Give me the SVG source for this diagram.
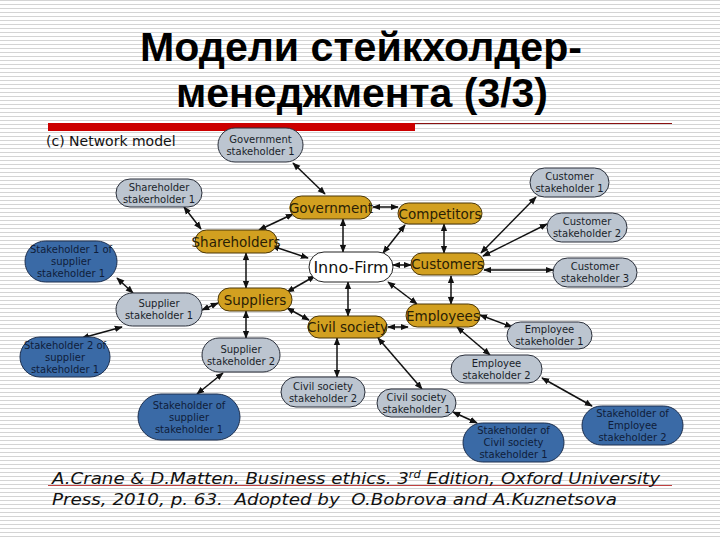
<svg xmlns="http://www.w3.org/2000/svg" width="720" height="540" viewBox="0 0 720 540">
<defs>
<pattern id="stripes" patternUnits="userSpaceOnUse" width="720" height="4">
<rect x="0" y="0" width="720" height="4" fill="#ffffff"/>
<rect x="0" y="0" width="720" height="1" fill="#d4d4d4"/>
</pattern>
<marker id="ah" viewBox="0 0 10 10" refX="9" refY="5" markerWidth="8" markerHeight="8" markerUnits="userSpaceOnUse" orient="auto-start-reverse">
<path d="M0,1 L10,5 L0,9 z" fill="#111"/>
</marker>
<style>
.t{font-family:"DejaVu Sans",Verdana,sans-serif;}
.grey rect{fill:#bcc5d0;stroke:#2a2f3a;stroke-width:1}
.blue rect{fill:#3a6aa6;stroke:#1c2f4f;stroke-width:1}
.gold rect{fill:#d2a020;stroke:#4a3608;stroke-width:1}
.white rect{fill:#ffffff;stroke:#222;stroke-width:1}
.grey text{font-family:"DejaVu Sans",Verdana,sans-serif;font-size:10px;fill:#1a1f2a;text-anchor:middle}
.blue text{font-family:"DejaVu Sans",Verdana,sans-serif;font-size:10px;fill:#0f1d3a;text-anchor:middle}
.gold text{font-family:"DejaVu Sans",Verdana,sans-serif;font-size:13.5px;fill:#2a1e05;text-anchor:middle}
.white text{font-family:"DejaVu Sans",Verdana,sans-serif;font-size:16px;fill:#111;text-anchor:middle}
#edges line{stroke:#111;stroke-width:1.5;marker-start:url(#ah);marker-end:url(#ah)}
</style>
</defs>
<rect x="0" y="0" width="720" height="540" fill="url(#stripes)"/>

<g id="title">
<text x="361" y="61" font-family="'Liberation Sans',Arial,sans-serif" font-weight="bold" font-size="41" text-anchor="middle" textLength="442" lengthAdjust="spacingAndGlyphs" fill="#000">Модели стейкхолдер-</text>
<text x="362" y="107" font-family="'Liberation Sans',Arial,sans-serif" font-weight="bold" font-size="41" text-anchor="middle" textLength="372" lengthAdjust="spacingAndGlyphs" fill="#000">менеджмента (3/3)</text>
</g>
<g id="rule">
<rect x="48" y="123" width="367" height="8" fill="#cc0000"/>
<line x1="415" y1="123.5" x2="672" y2="123.5" stroke="#8a1010" stroke-width="1"/>
</g>
<text class="t" x="46" y="146" font-size="14" fill="#111">(c) Network model</text>

<g id="edges">
<line x1="293" y1="163" x2="325" y2="194"/>
<line x1="184" y1="207" x2="201" y2="229"/>
<line x1="293" y1="214" x2="259" y2="230"/>
<line x1="272" y1="246" x2="308" y2="258"/>
<line x1="343" y1="219" x2="343" y2="252"/>
<line x1="373" y1="207" x2="398" y2="207"/>
<line x1="405" y1="225" x2="383" y2="253"/>
<line x1="444" y1="224" x2="444" y2="253"/>
<line x1="393" y1="265" x2="411" y2="265"/>
<line x1="481" y1="253" x2="536" y2="197"/>
<line x1="483" y1="256" x2="547" y2="224"/>
<line x1="484" y1="270" x2="553" y2="270"/>
<line x1="451" y1="276" x2="451" y2="304"/>
<line x1="388" y1="282" x2="417" y2="304"/>
<line x1="315" y1="276" x2="287" y2="292"/>
<line x1="348" y1="282" x2="348" y2="316"/>
<line x1="287" y1="308" x2="309" y2="320"/>
<line x1="388" y1="327" x2="408" y2="327"/>
<line x1="246" y1="253" x2="246" y2="288"/>
<line x1="117" y1="278" x2="133" y2="293"/>
<line x1="202" y1="310" x2="218" y2="303"/>
<line x1="122" y1="327" x2="82" y2="338"/>
<line x1="246" y1="311" x2="246" y2="338"/>
<line x1="223" y1="373" x2="197" y2="394"/>
<line x1="337" y1="338" x2="337" y2="377"/>
<line x1="378" y1="338" x2="422" y2="389"/>
<line x1="480" y1="315" x2="512" y2="327"/>
<line x1="457" y1="327" x2="490" y2="355"/>
<line x1="542" y1="378" x2="592" y2="406"/>
<line x1="453" y1="412" x2="477" y2="423"/>
</g>

<g id="gov-sh1" class="grey"><rect x="218" y="128" width="85" height="34" rx="17"/><text x="260.5" y="143">Government</text><text x="260.5" y="155">stakeholder 1</text></g>
<g id="share-sh1" class="grey"><rect x="116" y="179" width="86" height="28" rx="14"/><text x="159" y="191">Shareholder</text><text x="159" y="203">stakerholder 1</text></g>
<g id="sup-sh1" class="grey"><rect x="116" y="293" width="86" height="33" rx="16.5"/><text x="159" y="307">Supplier</text><text x="159" y="319">stakeholder 1</text></g>
<g id="sup-sh2" class="grey"><rect x="202" y="338" width="78" height="34" rx="17"/><text x="241" y="353">Supplier</text><text x="241" y="365">stakeholder 2</text></g>
<g id="civ-sh2" class="grey"><rect x="281" y="377" width="84" height="30" rx="15"/><text x="323" y="390">Civil society</text><text x="323" y="402">stakeholder 2</text></g>
<g id="cus-sh1" class="grey"><rect x="530" y="168" width="79" height="29" rx="14.5"/><text x="569.5" y="180">Customer</text><text x="569.5" y="192">stakeholder 1</text></g>
<g id="cus-sh2" class="grey"><rect x="547" y="213" width="80" height="29" rx="14.5"/><text x="587" y="225">Customer</text><text x="587" y="237">stakeholder 2</text></g>
<g id="cus-sh3" class="grey"><rect x="553" y="258" width="84" height="29" rx="14.5"/><text x="595" y="270">Customer</text><text x="595" y="282">stakeholder 3</text></g>
<g id="emp-sh1" class="grey"><rect x="507" y="322" width="85" height="27" rx="13.5"/><text x="549.5" y="333">Employee</text><text x="549.5" y="345">stakeholder 1</text></g>
<g id="emp-sh2" class="grey"><rect x="451" y="355" width="91" height="28" rx="14"/><text x="496.5" y="366.5">Employee</text><text x="496.5" y="378.5">stakeholder 2</text></g>
<g id="civ-sh1" class="grey"><rect x="377" y="389" width="79" height="28" rx="14"/><text x="416.5" y="400.5">Civil society</text><text x="416.5" y="412.5">stakeholder 1</text></g>

<g id="b-sup1-1" class="blue"><rect x="25" y="241" width="92" height="41" rx="20.5"/><text x="71" y="253">Stakeholder 1 of</text><text x="71" y="265">supplier</text><text x="71" y="277">stakeholder 1</text></g>
<g id="b-sup1-2" class="blue"><rect x="20" y="337" width="90" height="40" rx="20"/><text x="65" y="348.5">Stakeholder 2 of</text><text x="65" y="360.5">supplier</text><text x="65" y="372.5">stakeholder 1</text></g>
<g id="b-sup2" class="blue"><rect x="138" y="394" width="102" height="46" rx="23"/><text x="189" y="408.5">Stakeholder of</text><text x="189" y="420.5">supplier</text><text x="189" y="432.5">stakeholder 1</text></g>
<g id="b-civ1" class="blue"><rect x="463" y="423" width="101" height="39" rx="19.5"/><text x="513.5" y="434">Stakeholder of</text><text x="513.5" y="446">Civil society</text><text x="513.5" y="458">stakeholder 1</text></g>
<g id="b-emp2" class="blue"><rect x="582" y="406" width="101" height="39" rx="19.5"/><text x="632.5" y="417">Stakeholder of</text><text x="632.5" y="429">Employee</text><text x="632.5" y="441">stakeholder 2</text></g>

<g id="government" class="gold"><rect x="290" y="196" width="82" height="23" rx="11.5"/><text x="331" y="212.5">Government</text></g>
<g id="competitors" class="gold"><rect x="398" y="203" width="84" height="21" rx="10.5"/><text x="440" y="218.5">Competitors</text></g>
<g id="shareholders" class="gold"><rect x="195" y="230" width="82" height="23" rx="11.5"/><text x="236" y="246.5">Shareholders</text></g>
<g id="customers" class="gold"><rect x="411" y="253" width="73" height="22" rx="11"/><text x="447.5" y="269">Customers</text></g>
<g id="employees" class="gold"><rect x="406" y="304" width="74" height="23" rx="11.5"/><text x="443" y="320.5">Employees</text></g>
<g id="civil-society" class="gold"><rect x="308" y="316" width="79" height="22" rx="11"/><text x="347.5" y="332">Civil society</text></g>
<g id="suppliers" class="gold"><rect x="218" y="288" width="74" height="23" rx="11.5"/><text x="255" y="304.5">Suppliers</text></g>
<g id="inno-firm" class="white"><rect x="309" y="252" width="84" height="30" rx="15"/><text x="351" y="273">Inno-Firm</text></g>

<g id="citation">
<line x1="48" y1="485.5" x2="672" y2="485.5" stroke="#c04040" stroke-width="1"/>
<text class="t" x="52" y="484" font-size="16" font-style="italic" fill="#111" textLength="608" lengthAdjust="spacingAndGlyphs">A.Crane &amp; D.Matten. Business ethics. 3<tspan font-size="10" dy="-6">rd</tspan><tspan dy="6"> Edition, Oxford University</tspan></text>
<text class="t" x="52" y="505" font-size="16" font-style="italic" fill="#111" textLength="565" lengthAdjust="spacingAndGlyphs" xml:space="preserve">Press, 2010, p. 63.  Adopted by  O.Bobrova and A.Kuznetsova</text>
</g>
</svg>
